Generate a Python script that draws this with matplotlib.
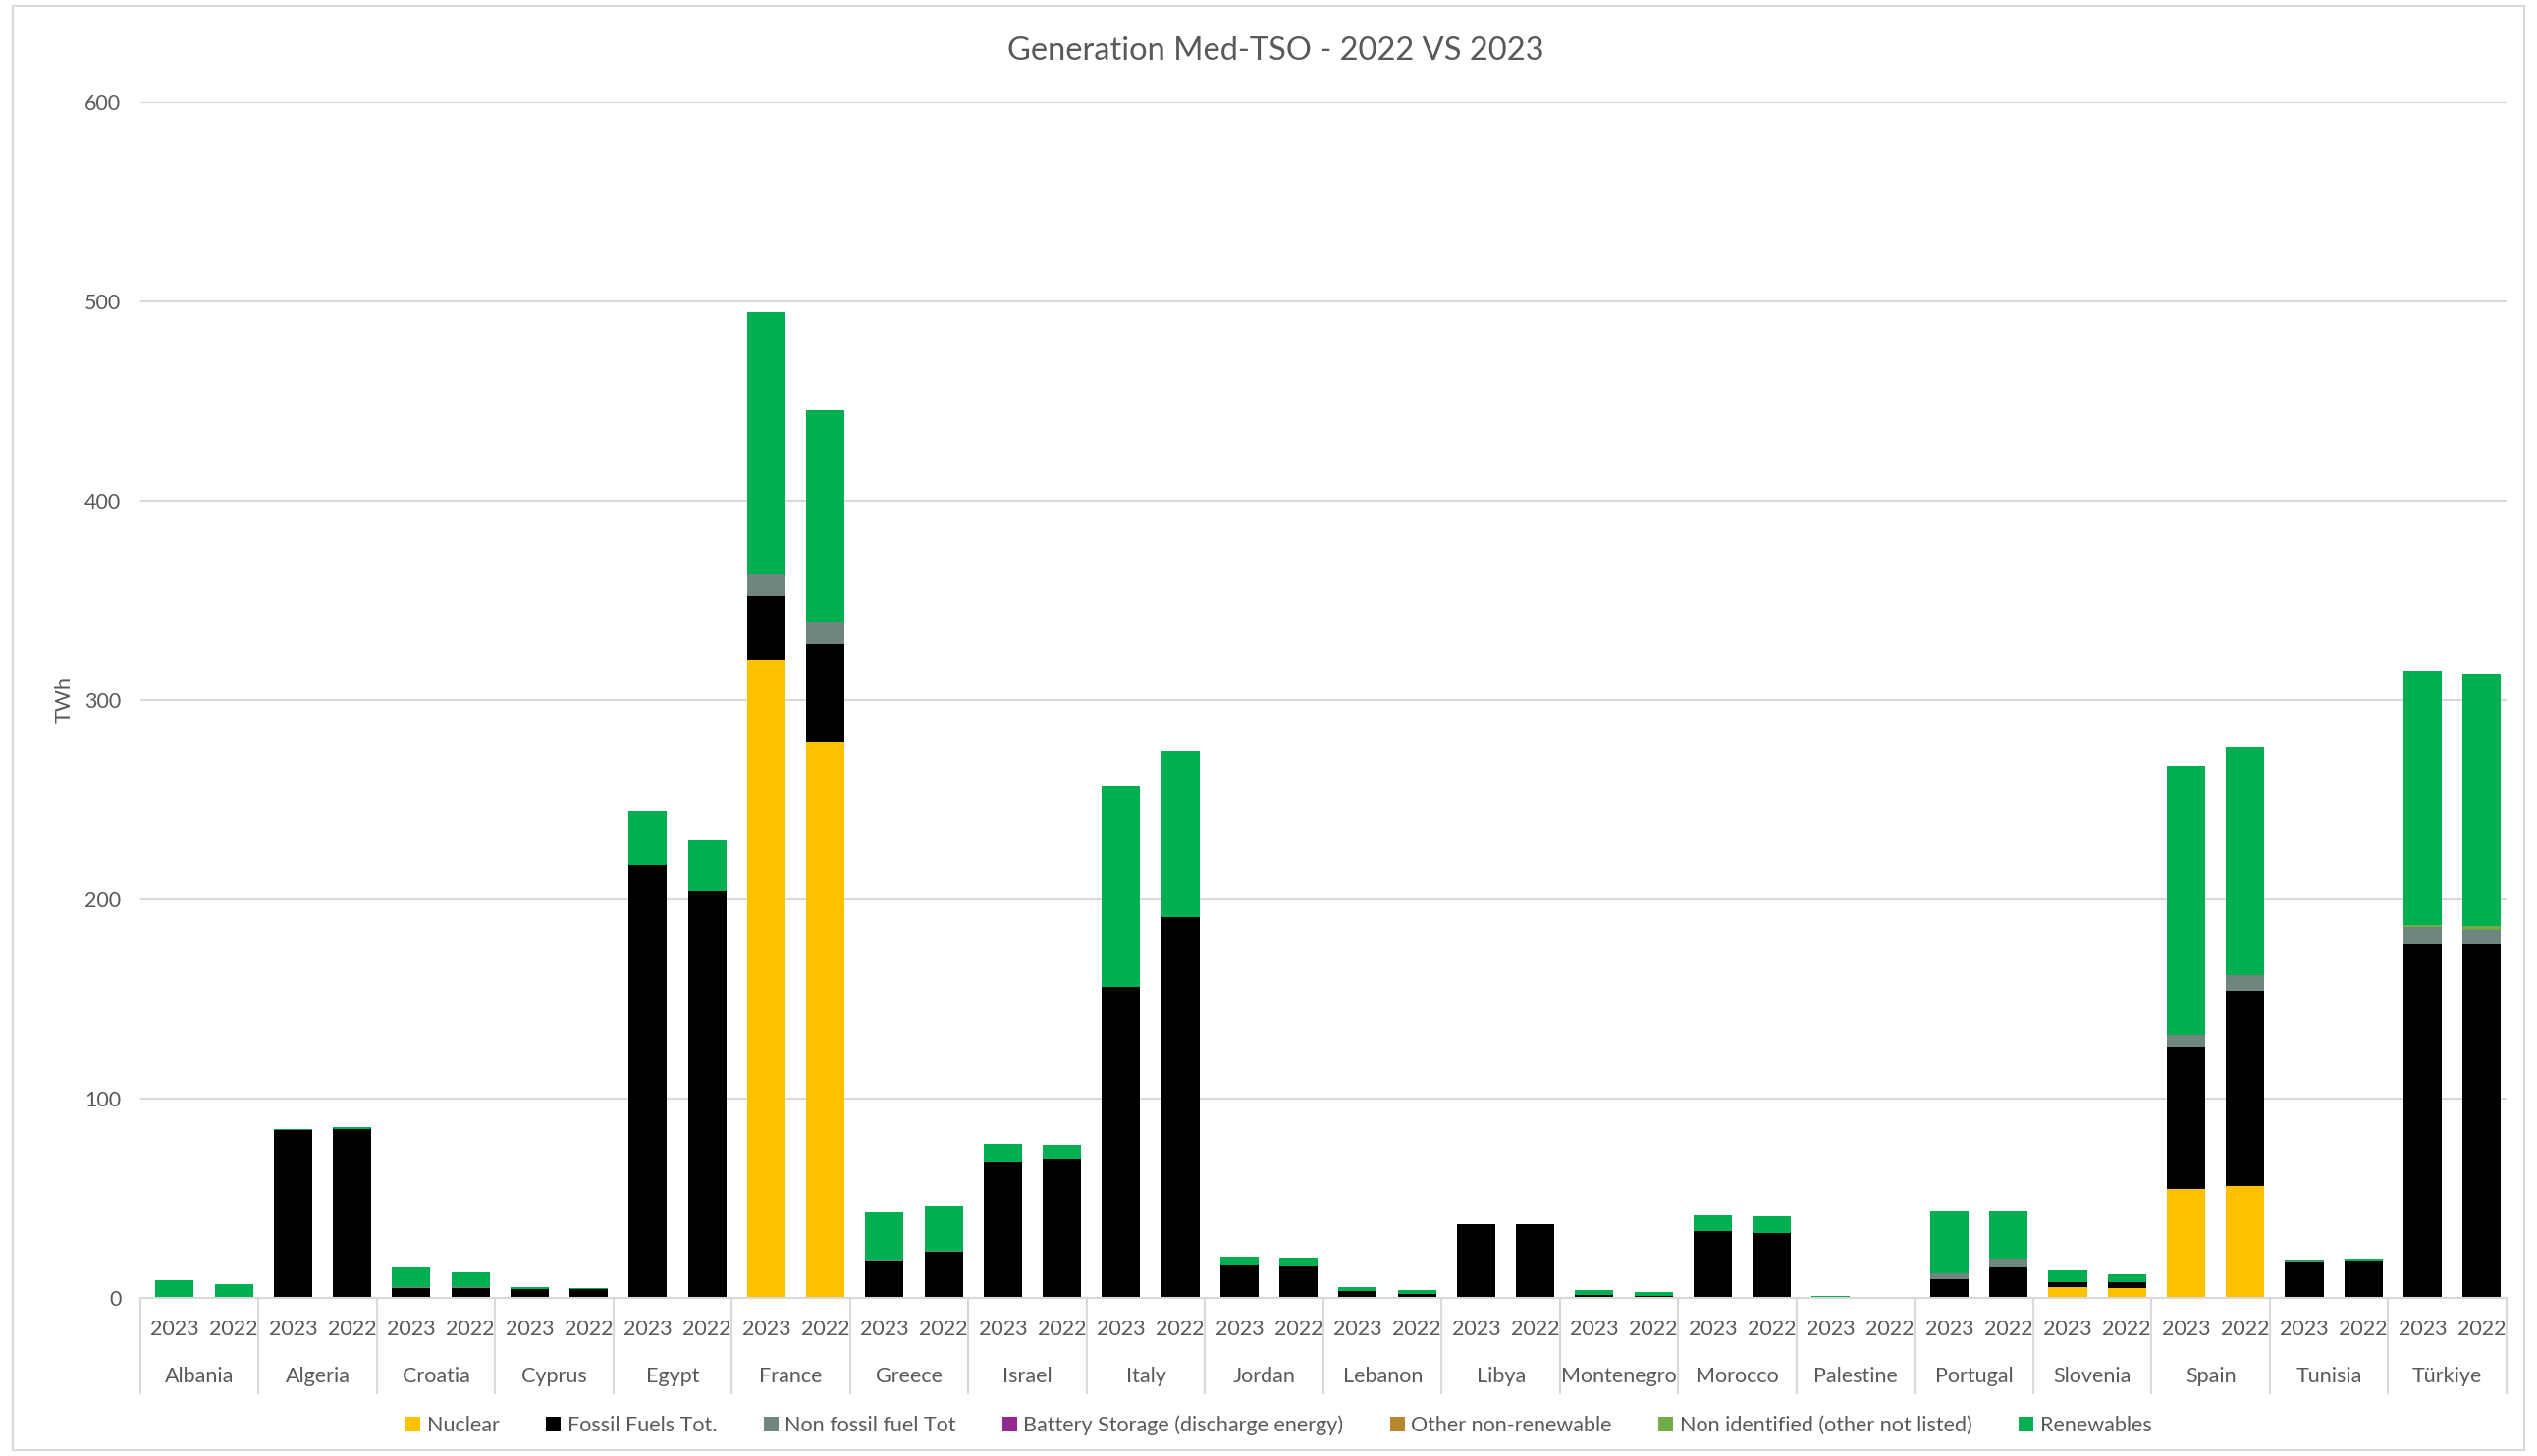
import numpy as np
import matplotlib
matplotlib.use("Agg")
from matplotlib import pyplot as plt
from matplotlib.patches import Rectangle

plt.rcParams['font.family'] = ['Lato', 'DejaVu Sans']

countries = ["Albania", "Algeria", "Croatia", "Cyprus", "Egypt", "France", "Greece",
             "Israel", "Italy", "Jordan", "Lebanon", "Libya", "Montenegro", "Morocco",
             "Palestine", "Portugal", "Slovenia", "Spain", "Tunisia", "Türkiye"]
years = ["2023", "2022"]

# values per country: (2023, 2022), TWh
nuclear = [(0, 0), (0, 0), (0, 0), (0, 0), (0, 0), (320.3, 278.9), (0, 0),
           (0, 0), (0, 0), (0, 0), (0, 0), (0, 0), (0, 0), (0, 0),
           (0, 0), (0, 0), (5.3, 5.1), (54.5, 56.0), (0, 0), (0, 0)]
fossil = [(0, 0), (84.0, 84.8), (4.7, 4.7), (4.4, 4.3), (217.3, 203.9), (32.0, 49.1), (18.7, 23.2),
          (67.8, 69.3), (156.1, 191.0), (16.9, 16.3), (3.4, 2.1), (37.0, 37.0), (1.5, 1.2), (33.4, 32.6),
          (0, 0), (9.1, 15.9), (2.6, 2.7), (71.7, 98.1), (18.2, 18.9), (177.9, 177.7)]
non_fossil = [(0, 0), (0, 0), (0.6, 0.5), (0, 0), (0, 0), (10.7, 10.7), (0.4, 0.3),
              (0, 0), (0, 0), (0, 0), (0, 0), (0, 0), (0, 0), (0, 0),
              (0, 0), (3.3, 3.8), (0.2, 0.1), (5.8, 7.7), (0.3, 0), (8.2, 7.2)]
battery = [(0, 0)] * 20
other_nonren = [(0, 0)] * 20
non_identified = [(0, 0), (0, 0), (0, 0), (0, 0), (0, 0), (0, 0), (0, 0),
                  (0, 0), (0, 0), (0, 0), (0, 0), (0, 0), (0, 0), (0, 0),
                  (0, 0), (0, 0), (0, 0), (0, 0), (0, 0), (1.1, 1.7)]
renewables = [(8.9, 7.1), (0.8, 0.7), (10.5, 7.6), (1.0, 0.7), (26.8, 25.7), (131.3, 106.7), (24.4, 22.9),
              (9.6, 7.6), (100.4, 83.3), (3.8, 4.0), (2.0, 1.8), (0, 0), (2.4, 1.7), (7.8, 8.4),
              (0.8, 0.7), (31.4, 24.1), (5.8, 3.8), (134.9, 114.4), (0.7, 0.8), (127.6, 126.2)]

series = [("Nuclear", nuclear, "#FFC000"),
          ("Fossil Fuels Tot.", fossil, "#000000"),
          ("Non fossil fuel Tot", non_fossil, "#6F8580"),
          ("Battery Storage (discharge energy)", battery, "#92278F"),
          ("Other non-renewable", other_nonren, "#B8862B"),
          ("Non identified (other not listed)", non_identified, "#70AD47"),
          ("Renewables", renewables, "#00B050")]

txt = "#595959"
grid = "#D9D9D9"
fs = 15.5

fig = plt.figure(figsize=(25.84, 14.83), dpi=100)
ax = fig.add_axes([0.0553, 0.1086, 0.9327, 0.8214])

x = np.arange(len(countries) * 2)
bottom = np.zeros(len(x))
handles = []
for name, vals, col in series:
    v = np.array(vals, dtype=float).reshape(-1)
    b = ax.bar(x + 0.08, v, width=0.65, bottom=bottom, color=col, label=name, linewidth=0)
    handles.append(b)
    bottom += v

ax.set_xlim(-0.5, len(x) - 0.5)
ax.set_ylim(0, 600)
ax.set_yticks(range(0, 601, 100))
ax.yaxis.grid(True, color=grid, linewidth=1.5)
ax.set_axisbelow(True)
for s in ["top", "right", "left"]:
    ax.spines[s].set_visible(False)
ax.spines["bottom"].set_color(grid)
ax.spines["bottom"].set_linewidth(1.5)
ax.tick_params(axis="y", length=0, labelsize=fs, labelcolor=txt, pad=14)

ax.set_xticks(x + 0.08)
ax.set_xticklabels(years * len(countries))
ax.tick_params(axis="x", length=0, labelsize=fs, labelcolor=txt, pad=16)

# group labels and separators
for i, c in enumerate(countries):
    ax.text(2 * i + 0.5, -0.066, c, transform=ax.get_xaxis_transform(),
            ha="center", va="center", fontsize=fs, color=txt)
for b in np.arange(-0.5, len(x), 2):
    ax.plot([b, b], [0, -0.08], transform=ax.get_xaxis_transform(),
            color=grid, linewidth=1.5, clip_on=False)

fig.text(0.0255, 0.5193, "TWh", rotation=90, ha="center", va="center",
         fontsize=fs, color=txt)
fig.text(0.503, 0.965, "Generation Med-TSO - 2022 VS 2023", ha="center", va="center",
         fontsize=23.5, color=txt)

fig.legend(handles=handles, loc="center", bbox_to_anchor=(0.504, 0.021), ncol=7,
           frameon=False, fontsize=fs, labelcolor=txt, handlelength=0.7,
           handleheight=0.7, handletextpad=0.3, columnspacing=2.2)

fig.patches.append(Rectangle((0.005, 0.004), 0.99, 0.992, transform=fig.transFigure,
                             fill=False, edgecolor=grid, linewidth=1.5))

fig.savefig("out.png", dpi=100)
